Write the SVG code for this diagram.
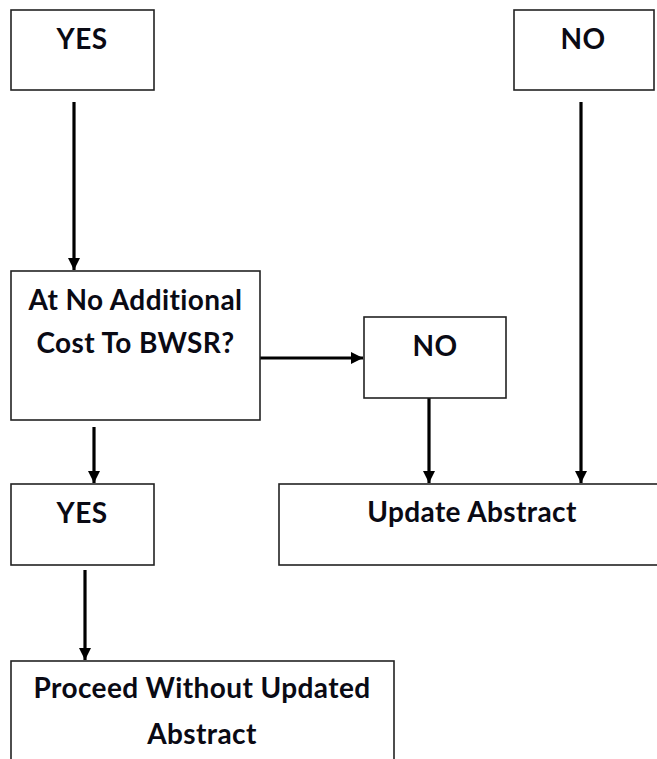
<svg xmlns="http://www.w3.org/2000/svg" width="657" height="759" viewBox="0 0 657 759">
<defs>
<style>
.box{fill:#fff;stroke:#222;stroke-width:1.6}
.lbl{font-family:Lato,"Liberation Sans",sans-serif;font-weight:bold;font-size:28px;letter-spacing:0.4px;fill:#0a0a14;text-anchor:middle}
.con{fill:none;stroke:#000;stroke-width:3.2}
</style>
<marker id="arr" markerUnits="userSpaceOnUse" markerWidth="13" markerHeight="13" viewBox="0 0 13 13" refX="12" refY="6.5" orient="auto">
<path d="M0,0.5 L12,6.5 L0,12.5 z" fill="#000"/>
</marker>
</defs>
<rect width="657" height="759" fill="#fff"/>
<g id="connectors">
<line class="con" x1="74" y1="102" x2="74" y2="270" marker-end="url(#arr)"/>
<line class="con" x1="581" y1="102" x2="581" y2="483" marker-end="url(#arr)"/>
<line class="con" x1="257" y1="358" x2="363" y2="358" marker-end="url(#arr)"/>
<line class="con" x1="429" y1="398" x2="429" y2="483" marker-end="url(#arr)"/>
<line class="con" x1="94" y1="427" x2="94" y2="483" marker-end="url(#arr)"/>
<line class="con" x1="85" y1="570" x2="85" y2="660" marker-end="url(#arr)"/>
</g>
<g id="yes-top">
<rect class="box" x="11" y="10" width="143" height="80"/>
<text class="lbl" x="82" y="49">YES</text>
</g>
<g id="no-top">
<rect class="box" x="514" y="10" width="140" height="80"/>
<text class="lbl" x="583" y="49">NO</text>
</g>
<g id="decision">
<rect class="box" x="11" y="271" width="249" height="149"/>
<text class="lbl" x="135.5" y="310">At No Additional</text>
<text class="lbl" x="135.5" y="353">Cost To BWSR?</text>
</g>
<g id="no-mid">
<rect class="box" x="364" y="317" width="142" height="81"/>
<text class="lbl" x="435" y="356">NO</text>
</g>
<g id="update">
<rect class="box" x="279" y="484" width="390" height="81"/>
<text class="lbl" x="472" y="522">Update Abstract</text>
</g>
<g id="yes-bottom">
<rect class="box" x="11" y="484" width="143" height="81"/>
<text class="lbl" x="82" y="523">YES</text>
</g>
<g id="proceed">
<rect class="box" x="11" y="661" width="383" height="130"/>
<text class="lbl" x="202" y="698">Proceed Without Updated</text>
<text class="lbl" x="202" y="744">Abstract</text>
</g>
</svg>
